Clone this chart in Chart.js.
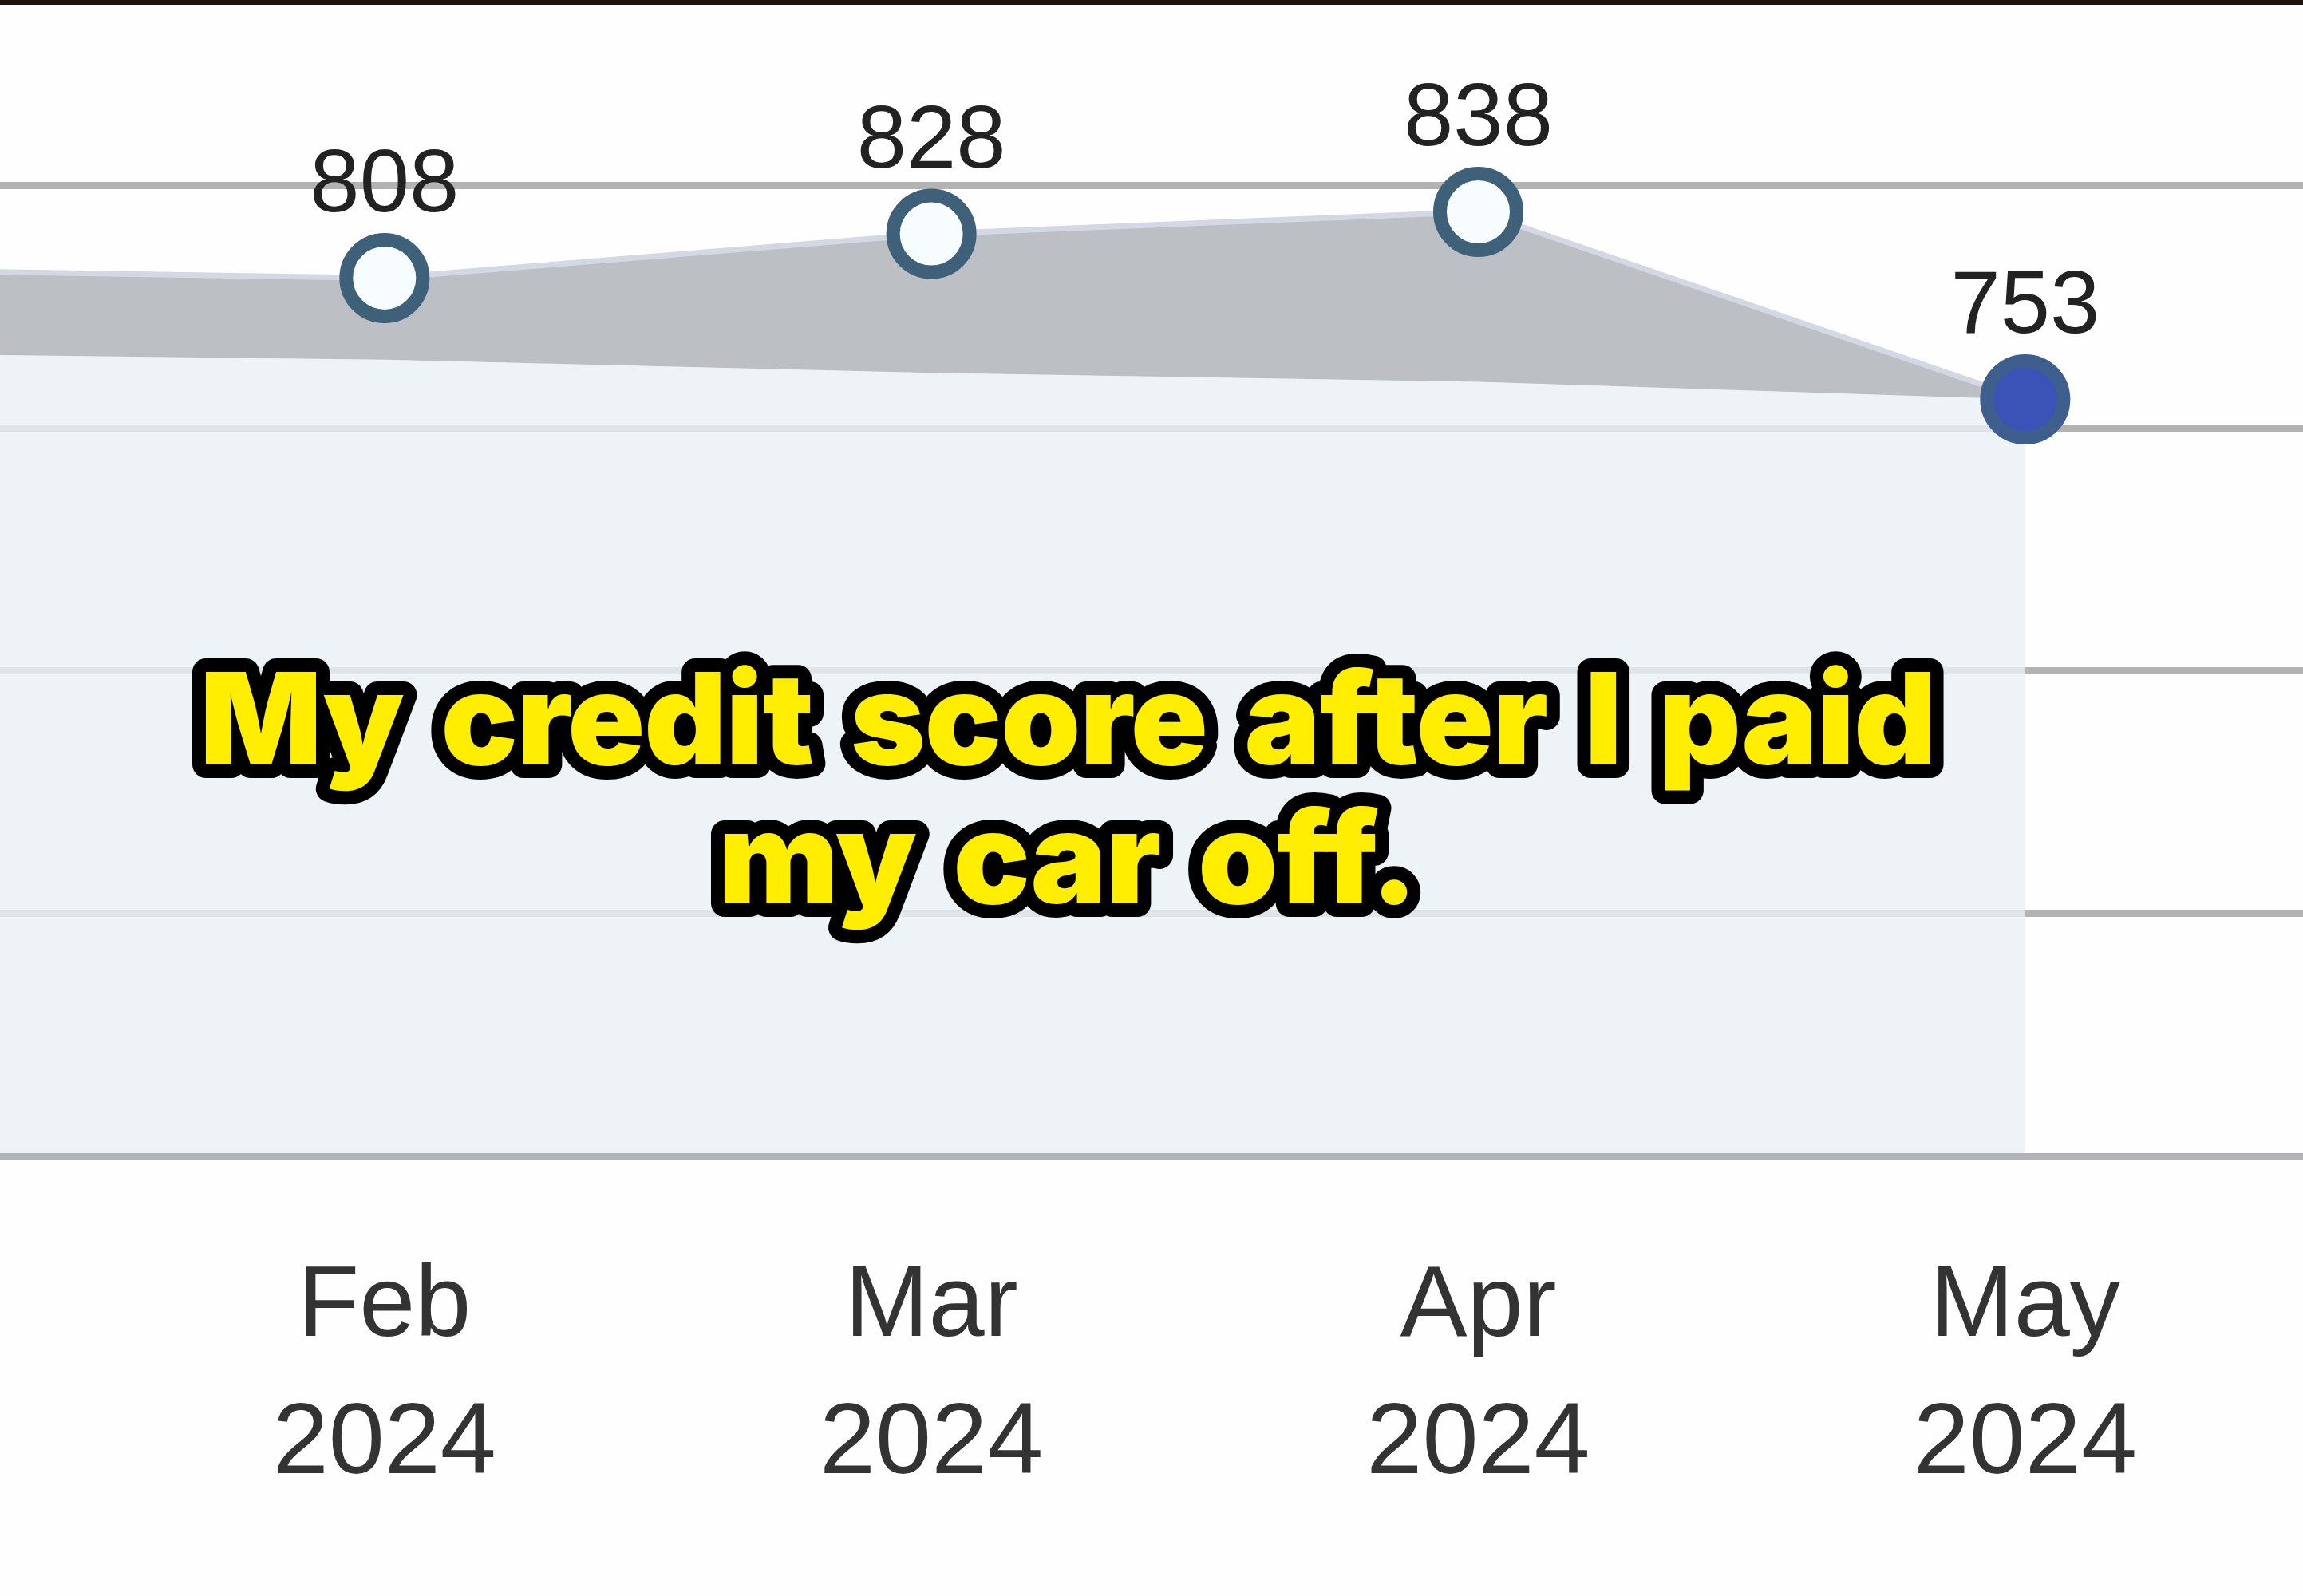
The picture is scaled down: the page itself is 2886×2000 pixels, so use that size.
<!DOCTYPE html>
<html>
<head>
<meta charset="utf-8">
<script src="https://cdn.jsdelivr.net/npm/chart.js@4.4.1/dist/chart.umd.min.js"></script>
<style>
  html, body { margin: 0; padding: 0; background: #fff; }
  #wrap { position: relative; width: 2886px; height: 2000px; overflow: hidden; background: #fefefe; }
  #topbar { position: absolute; left: 0; top: 0; width: 2886px; height: 6px; background: #1d140d; z-index: 3; }
  #grafica { position: absolute; left: 0; top: 0; }
  #caption { position: absolute; left: 0; top: 0; z-index: 2; }
</style>
</head>
<body>
<div id="wrap">
  <div id="topbar"></div>
  <canvas id="grafica" width="2886" height="2000"></canvas>
  <svg id="caption" width="2886" height="2000">
    <g font-family="Inter, Lato, sans-serif" font-weight="900" font-size="160" text-anchor="middle"
       fill="#ffee00" stroke="#000" stroke-width="34" stroke-linejoin="round" paint-order="stroke fill"
       letter-spacing="-1" word-spacing="16">
      <text x="1338" y="958">My credit score after I paid</text>
      <text x="1338" y="1132">my car off.</text>
    </g>
  </svg>
</div>
<script>
// months on the x axis (Jan sits just off the left edge)
const months = ['Jan', 'Feb', 'Mar', 'Apr', 'May'];
const years = ['2024', '2024', '2024', '2024', '2024'];
// credit score per month
const scores = [812, 808, 828, 838, 753];
// lower edge of the grey band under the score line
const lowerBand = [774, 771, 765, 761, 753];
// tick positions
const yTicks = [410, 520, 630, 740, 850];
const xTicks = [1, 2, 3, 4];

const toPoints = values => values.map((v, i) => ({ x: i, y: v }));

// numbers above each point
const valueLabels = {
  id: 'valueLabels',
  afterDatasetsDraw(chart) {
    const ctx = chart.ctx;
    const meta = chart.getDatasetMeta(0);
    ctx.save();
    ctx.font = '112px "Liberation Sans", Arial, sans-serif';
    ctx.fillStyle = '#222';
    ctx.textAlign = 'center';
    ctx.textBaseline = 'middle';
    meta.data.forEach((pt, i) => {
      ctx.fillText(String(scores[i]), pt.x, pt.y - 114);
    });
    ctx.restore();
  }
};

const ctx = document.getElementById('grafica').getContext('2d');
const myChart = new Chart(ctx, {
  type: 'line',
  data: {
    datasets: [
      {
        label: 'Score',
        data: toPoints(scores),
        borderColor: '#d4d8e4',
        borderWidth: 7,
        backgroundColor: '#bcc0c4',
        fill: '+1',
        tension: 0,
        pointRadius: 48,
        pointBorderWidth: 17,
        pointBorderColor: ['#3f6079', '#3f6079', '#3f6079', '#3f6079', '#3e5e8e'],
        pointBackgroundColor: ['#f7fcff', '#f7fcff', '#f7fcff', '#f7fcff', '#3b52b6']
      },
      {
        label: 'Lower',
        data: toPoints(lowerBand),
        borderWidth: 0,
        pointRadius: 0,
        backgroundColor: 'rgba(233, 240, 245, 0.8)',
        fill: 'start',
        tension: 0
      }
    ]
  },
  options: {
    responsive: false,
    animation: false,
    layout: { padding: 0, autoPadding: false },
    plugins: {
      legend: { display: false },
      tooltip: { enabled: false }
    },
    scales: {
      x: {
        type: 'linear',
        min: 0.297,
        max: 4.508,
        grid: { display: false, drawTicks: false },
        border: { display: true, color: '#b1b3b6', width: 9, z: 1 },
        afterBuildTicks: scale => { scale.ticks = xTicks.map(v => ({ value: v })); },
        afterFit: scale => { scale.height = 551; },
        ticks: {
          autoSkip: false,
          maxRotation: 0,
          padding: 105,
          color: '#333',
          font: { family: '"Liberation Sans", Arial, sans-serif', size: 126, lineHeight: 1.36 },
          callback: v => [months[v], years[v]]
        }
      },
      y: {
        min: 410,
        max: 934,
        afterBuildTicks: scale => { scale.ticks = yTicks.map(v => ({ value: v })); },
        afterFit: scale => { scale.width = 0; },
        grid: { color: '#b3b3b3', lineWidth: 9, drawTicks: false },
        border: { display: false },
        ticks: { display: false }
      }
    }
  },
  plugins: [valueLabels]
});
</script>
</body>
</html>
